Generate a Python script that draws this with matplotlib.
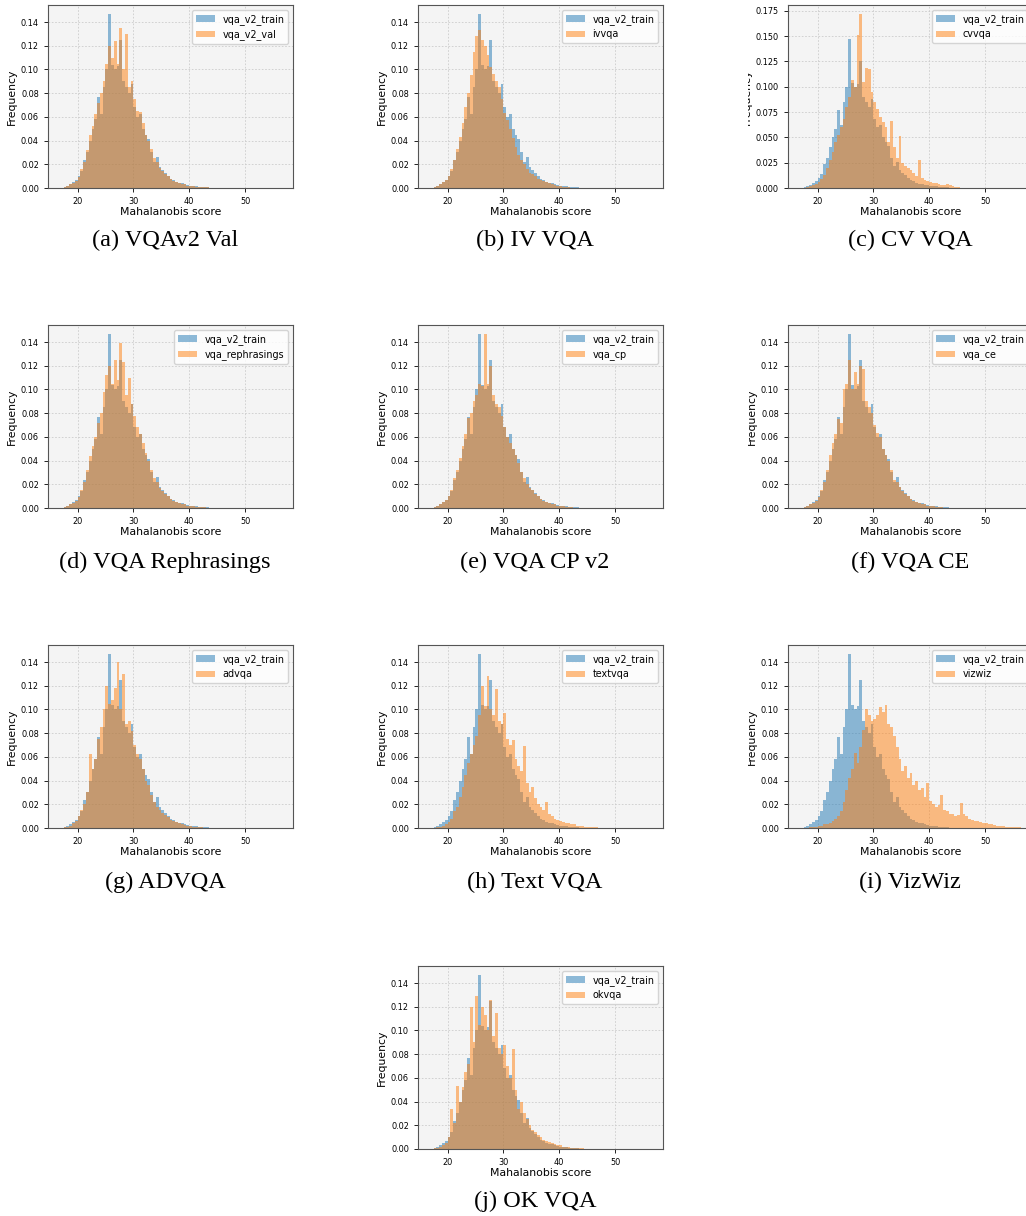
import numpy as np
import matplotlib
matplotlib.use("Agg")
import matplotlib.pyplot as plt
from matplotlib.transforms import Bbox, TransformedBbox

# histogram bins (Mahalanobis score), shared by every panel
BIN_START = 17.5
BIN_WIDTH = 0.5

# reference distribution, same in every panel
vqa_v2_train = [0.0005, 0.002, 0.003, 0.005, 0.007, 0.010, 0.014, 0.024, 0.030, 0.040,
                0.050, 0.058, 0.077, 0.062, 0.085, 0.100, 0.147, 0.104, 0.100, 0.103,
                0.125, 0.090, 0.085, 0.080, 0.088, 0.068, 0.060, 0.062, 0.050, 0.045,
                0.041, 0.030, 0.022, 0.026, 0.018, 0.015, 0.013, 0.010, 0.008, 0.007,
                0.005, 0.004, 0.004, 0.003, 0.0025, 0.002, 0.002, 0.0015, 0.001, 0.001,
                0.0007, 0.0005, 0.0004, 0.0003, 0.0002, 0.0001]

vqa_v2_val = [0.0005, 0.0015, 0.003, 0.004, 0.006, 0.009, 0.016, 0.022, 0.032, 0.045,
              0.052, 0.062, 0.072, 0.080, 0.090, 0.105, 0.120, 0.110, 0.124, 0.105,
              0.135, 0.100, 0.130, 0.085, 0.090, 0.075, 0.065, 0.064, 0.055, 0.045,
              0.040, 0.033, 0.025, 0.022, 0.017, 0.014, 0.012, 0.010, 0.008, 0.006,
              0.005, 0.004, 0.003, 0.003, 0.002, 0.002, 0.0015, 0.001, 0.001, 0.0008,
              0.0006, 0.0005, 0.0004, 0.0003, 0.0002, 0.0002]

ivvqa = [0.0005, 0.002, 0.003, 0.005, 0.007, 0.010, 0.016, 0.024, 0.033, 0.043,
         0.055, 0.068, 0.080, 0.095, 0.115, 0.128, 0.133, 0.125, 0.120, 0.112,
         0.102, 0.096, 0.090, 0.085, 0.075, 0.063, 0.057, 0.050, 0.042, 0.035,
         0.028, 0.024, 0.020, 0.016, 0.013, 0.012, 0.010, 0.008, 0.007, 0.006,
         0.005, 0.004, 0.003, 0.0025, 0.002, 0.0015, 0.001, 0.0008, 0.0005, 0.0003]

cvvqa = [0.0, 0.001, 0.002, 0.003, 0.004, 0.006, 0.009, 0.013, 0.020, 0.028,
         0.036, 0.045, 0.052, 0.060, 0.068, 0.080, 0.090, 0.107, 0.100, 0.151,
         0.172, 0.105, 0.118, 0.117, 0.095, 0.085, 0.078, 0.070, 0.065, 0.060,
         0.045, 0.066, 0.040, 0.030, 0.051, 0.025, 0.022, 0.020, 0.018, 0.015,
         0.012, 0.028, 0.010, 0.008, 0.007, 0.006, 0.005, 0.005, 0.004, 0.003,
         0.003, 0.004, 0.003, 0.002, 0.001, 0.0005]

vqa_rephrasings = [0.0005, 0.0015, 0.003, 0.004, 0.006, 0.009, 0.015, 0.022, 0.032, 0.044,
                   0.052, 0.060, 0.072, 0.080, 0.098, 0.112, 0.120, 0.105, 0.125, 0.108,
                   0.139, 0.123, 0.095, 0.110, 0.088, 0.078, 0.068, 0.062, 0.055, 0.046,
                   0.040, 0.032, 0.025, 0.022, 0.017, 0.014, 0.012, 0.010, 0.008, 0.006,
                   0.005, 0.004, 0.003, 0.003, 0.002, 0.002, 0.0015, 0.001, 0.001, 0.0008,
                   0.0005, 0.0004, 0.0003, 0.0002, 0.0001]

vqa_cp = [0.0005, 0.0015, 0.003, 0.005, 0.007, 0.010, 0.015, 0.025, 0.032, 0.042,
          0.052, 0.062, 0.076, 0.080, 0.090, 0.095, 0.105, 0.103, 0.147, 0.105,
          0.120, 0.095, 0.088, 0.085, 0.078, 0.068, 0.060, 0.055, 0.050, 0.045,
          0.038, 0.030, 0.025, 0.020, 0.017, 0.015, 0.012, 0.010, 0.008, 0.006,
          0.005, 0.004, 0.003, 0.003, 0.002, 0.002, 0.0015, 0.001, 0.0008, 0.0005,
          0.0004, 0.0003, 0.0002, 0.0001]

vqa_ce = [0.0005, 0.0015, 0.003, 0.004, 0.006, 0.009, 0.015, 0.022, 0.032, 0.045,
          0.055, 0.062, 0.075, 0.072, 0.100, 0.105, 0.125, 0.100, 0.115, 0.105,
          0.120, 0.117, 0.090, 0.085, 0.080, 0.070, 0.063, 0.060, 0.050, 0.045,
          0.040, 0.032, 0.024, 0.022, 0.018, 0.014, 0.012, 0.010, 0.008, 0.006,
          0.005, 0.004, 0.003, 0.003, 0.002, 0.002, 0.0015, 0.001, 0.0008, 0.0005,
          0.0004, 0.0003, 0.0002, 0.0001]

advqa = [0.0005, 0.001, 0.002, 0.004, 0.006, 0.010, 0.015, 0.020, 0.030, 0.062,
         0.050, 0.058, 0.075, 0.085, 0.100, 0.120, 0.105, 0.108, 0.118, 0.140,
         0.100, 0.130, 0.088, 0.090, 0.082, 0.070, 0.062, 0.058, 0.050, 0.040,
         0.036, 0.028, 0.022, 0.018, 0.015, 0.013, 0.011, 0.009, 0.007, 0.006,
         0.005, 0.004, 0.003, 0.0025, 0.002, 0.0015, 0.001, 0.001, 0.0008, 0.0005,
         0.0004, 0.0003, 0.0002, 0.0001, 0.0001]

textvqa = [0.0, 0.0005, 0.001, 0.002, 0.003, 0.005, 0.008, 0.014, 0.018, 0.026,
           0.035, 0.045, 0.055, 0.062, 0.070, 0.078, 0.095, 0.120, 0.103, 0.128,
           0.100, 0.095, 0.117, 0.090, 0.088, 0.097, 0.075, 0.070, 0.074, 0.058,
           0.052, 0.048, 0.069, 0.038, 0.030, 0.035, 0.025, 0.020, 0.018, 0.015,
           0.022, 0.012, 0.010, 0.008, 0.007, 0.006, 0.005, 0.004, 0.004, 0.003,
           0.003, 0.002, 0.002, 0.0015, 0.001, 0.001, 0.0008, 0.0005, 0.0005, 0.0003,
           0.0003, 0.0002]

vizwiz = [0.0, 0.0, 0.0005, 0.001, 0.001, 0.0015, 0.002, 0.003, 0.003, 0.004,
          0.006, 0.008, 0.010, 0.014, 0.022, 0.032, 0.042, 0.050, 0.063, 0.055,
          0.068, 0.083, 0.100, 0.095, 0.090, 0.092, 0.095, 0.102, 0.098, 0.104,
          0.088, 0.085, 0.078, 0.068, 0.058, 0.048, 0.052, 0.042, 0.046, 0.036,
          0.040, 0.032, 0.034, 0.026, 0.038, 0.023, 0.020, 0.018, 0.019, 0.028,
          0.015, 0.014, 0.012, 0.012, 0.010, 0.011, 0.021, 0.012, 0.010, 0.008,
          0.007, 0.006, 0.006, 0.005, 0.004, 0.004, 0.003, 0.003, 0.0025, 0.002,
          0.002, 0.0015, 0.001, 0.001, 0.0008, 0.0008, 0.0005, 0.001]

okvqa = [0.0005, 0.001, 0.002, 0.003, 0.005, 0.010, 0.034, 0.022, 0.053, 0.040,
         0.052, 0.065, 0.072, 0.120, 0.090, 0.129, 0.105, 0.120, 0.113, 0.100,
         0.126, 0.095, 0.115, 0.085, 0.080, 0.088, 0.070, 0.060, 0.084, 0.050,
         0.034, 0.040, 0.030, 0.025, 0.020, 0.016, 0.014, 0.012, 0.010, 0.008,
         0.007, 0.006, 0.005, 0.004, 0.003, 0.003, 0.002, 0.002, 0.0015, 0.001,
         0.001, 0.0008, 0.0008, 0.0006, 0.0004, 0.0002]

panels = [
    ("(a) VQAv2 Val", "vqa_v2_val", vqa_v2_val),
    ("(b) IV VQA", "ivvqa", ivvqa),
    ("(c) CV VQA", "cvvqa", cvvqa),
    ("(d) VQA Rephrasings", "vqa_rephrasings", vqa_rephrasings),
    ("(e) VQA CP v2", "vqa_cp", vqa_cp),
    ("(f) VQA CE", "vqa_ce", vqa_ce),
    ("(g) ADVQA", "advqa", advqa),
    ("(h) Text VQA", "textvqa", textvqa),
    ("(i) VizWiz", "vizwiz", vizwiz),
    ("(j) OK VQA", "okvqa", okvqa),
]

W, H = 1026, 1216
fig = plt.figure(figsize=(W / 100, H / 100), dpi=100)

col_left = [48, 418, 788]
row_top = [5, 325, 645, 966]
ax_w, ax_h = 245, 183
cap_x = [165, 535, 910]
cap_y = [240, 562, 882, 1201]


def draw_hist(ax, heights, label):
    h = np.asarray(heights)
    edges = BIN_START + BIN_WIDTH * np.arange(len(h) + 1)
    centers = edges[:-1] + BIN_WIDTH / 2
    ax.hist(centers, bins=edges, weights=h, alpha=0.5, label=label)


for i, (caption, name, vals) in enumerate(panels):
    if i < 9:
        r, c = divmod(i, 3)
    else:
        r, c = 3, 1
    left = col_left[c]
    top = row_top[r]
    ax = fig.add_axes([left / W, 1 - (top + ax_h) / H, ax_w / W, ax_h / H])
    ax.set_facecolor("#f4f4f4")
    ax.grid(True, linestyle=(0, (2, 2)), color="#cccccc", linewidth=0.6)
    ax.set_axisbelow(True)
    draw_hist(ax, vqa_v2_train, "vqa_v2_train")
    draw_hist(ax, vals, name)
    ax.set_xlim(14.7, 58.6)
    ax.set_xticks([20, 30, 40, 50])
    ax.tick_params(labelsize=5.9, length=3, width=0.6)
    ax.set_xlabel("Mahalanobis score", fontsize=7.8, labelpad=1)
    ax.set_ylabel("Frequency", fontsize=7.8, labelpad=3)
    for s in ax.spines.values():
        s.set_color("#555555")
        s.set_linewidth(0.8)
    ax.legend(loc="upper right", fontsize=6.9, framealpha=0.8)
    if c == 2:
        # the right-hand images are cropped at the page edge
        clip = TransformedBbox(Bbox([[748 / W, 0], [1, 1]]), fig.transFigure)
        ax.yaxis.label.set_clip_box(clip)
        ax.yaxis.label.set_clip_on(True)
    fig.text(cap_x[c] / W, 1 - cap_y[r] / H, caption, ha="center", va="center",
             fontsize=17.5, family="Liberation Serif")

fig.savefig("out.png", dpi=100)
